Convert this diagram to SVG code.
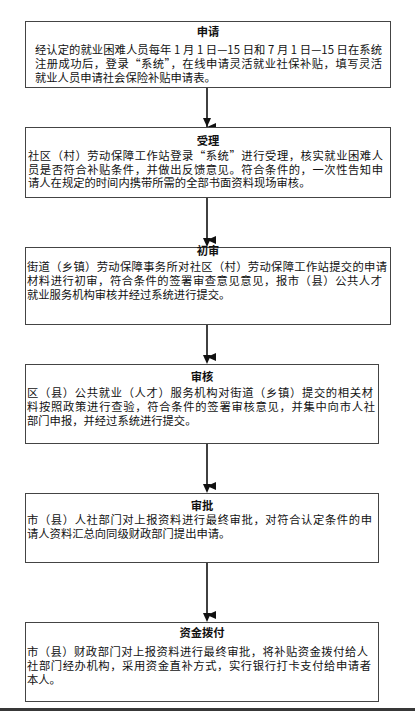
<svg xmlns="http://www.w3.org/2000/svg" width="415" height="711" viewBox="0 0 415 711">
<style>
.box{fill:#fff;stroke:#444;stroke-width:1}
.t{font-family:"Noto Sans CJK SC","Liberation Sans",sans-serif;font-size:11.3px;fill:#111}
.h{font-family:"Noto Sans CJK SC","Liberation Sans",sans-serif;font-size:11.3px;font-weight:bold;fill:#111;text-anchor:middle}
.c{stroke:#111;stroke-width:1.6;fill:none;marker-end:url(#ah)}
</style>
<defs>
<marker id="ah" markerUnits="userSpaceOnUse" markerWidth="10" markerHeight="10" refX="4" refY="9" orient="auto-start-reverse" viewBox="0 0 8 10">
<path d="M0,0 L8,0 L4,9 Z" fill="#111" transform="rotate(0)"/>
</marker>
</defs>
<rect width="415" height="711" fill="#fff"/>
<g id="connectors">
<line class="c" x1="207" y1="87" x2="207" y2="127" marker-end="none"/>
<path d="M203,118 L211,118 L207,127 Z" fill="#111"/>
<line class="c" x1="207" y1="197" x2="207" y2="240" marker-end="none"/>
<path d="M203,238 L211,238 L207,247 Z" fill="#111"/>
<line class="c" x1="207" y1="324" x2="207" y2="357" marker-end="none"/>
<path d="M203,355 L211,355 L207,364 Z" fill="#111"/>
<line class="c" x1="207" y1="443" x2="207" y2="486" marker-end="none"/>
<path d="M203,484 L211,484 L207,493 Z" fill="#111"/>
<line class="c" x1="207" y1="562" x2="207" y2="615" marker-end="none"/>
<path d="M203,613 L211,613 L207,622 Z" fill="#111"/>
</g>
<g id="n1">
<rect class="box" x="25.5" y="21.5" width="365" height="66"/>
<text class="h" x="208" y="36">申请</text>
<text class="t" x="35" y="54" textLength="347" lengthAdjust="spacing">经认定的就业困难人员每年 1 月 1 日—15 日和 7 月 1 日—15 日在系统</text>
<text class="t" x="35" y="68" textLength="347" lengthAdjust="spacing">注册成功后，登录“系统”，在线申请灵活就业社保补贴，填写灵活</text>
<text class="t" x="35" y="82">就业人员申请社会保险补贴申请表。</text>
</g>
<g id="n2">
<rect class="box" x="25.5" y="127.5" width="365" height="70"/>
<text class="h" x="208" y="145">受理</text>
<text class="t" x="28" y="160" textLength="355" lengthAdjust="spacing">社区（村）劳动保障工作站登录“系统”进行受理，核实就业困难人</text>
<text class="t" x="28" y="173.5" textLength="355" lengthAdjust="spacing">员是否符合补贴条件，并做出反馈意见。符合条件的，一次性告知申</text>
<text class="t" x="28" y="187">请人在规定的时间内携带所需的全部书面资料现场审核。</text>
</g>
<g id="n3">
<rect class="box" x="25.5" y="247.5" width="365" height="77"/>
<text class="h" x="208" y="255">初审</text>
<text class="t" x="27" y="271" textLength="360" lengthAdjust="spacing">街道（乡镇）劳动保障事务所对社区（村）劳动保障工作站提交的申请</text>
<text class="t" x="27" y="285" textLength="355" lengthAdjust="spacing">材料进行初审，符合条件的签署审查意见意见，报市（县）公共人才</text>
<text class="t" x="27" y="299">就业服务机构审核并经过系统进行提交。</text>
</g>
<g id="n4">
<rect class="box" x="25.5" y="364.5" width="353" height="79"/>
<text class="h" x="202" y="381">审核</text>
<text class="t" x="27" y="397" textLength="346" lengthAdjust="spacing">区（县）公共就业（人才）服务机构对街道（乡镇）提交的相关材</text>
<text class="t" x="27" y="411" textLength="348" lengthAdjust="spacing">料按照政策进行查验，符合条件的签署审核意见，并集中向市人社</text>
<text class="t" x="27" y="425">部门申报，并经过系统进行提交。</text>
</g>
<g id="n5">
<rect class="box" x="25.5" y="493.5" width="353" height="69"/>
<text class="h" x="202" y="510">审批</text>
<text class="t" x="27" y="524" textLength="345" lengthAdjust="spacing">市（县）人社部门对上报资料进行最终审批，对符合认定条件的申</text>
<text class="t" x="27" y="538">请人资料汇总向同级财政部门提出申请。</text>
</g>
<g id="n6">
<rect class="box" x="25.5" y="622.5" width="353" height="79"/>
<text class="h" x="202" y="637">资金拨付</text>
<text class="t" x="27" y="656" textLength="341" lengthAdjust="spacing">市（县）财政部门对上报资料进行最终审批，将补贴资金拨付给人</text>
<text class="t" x="27" y="670" textLength="344" lengthAdjust="spacing">社部门经办机构，采用资金直补方式，实行银行打卡支付给申请者</text>
<text class="t" x="27" y="684">本人。</text>
</g>
<rect x="0" y="708" width="415" height="3" fill="#383838"/>
</svg>
